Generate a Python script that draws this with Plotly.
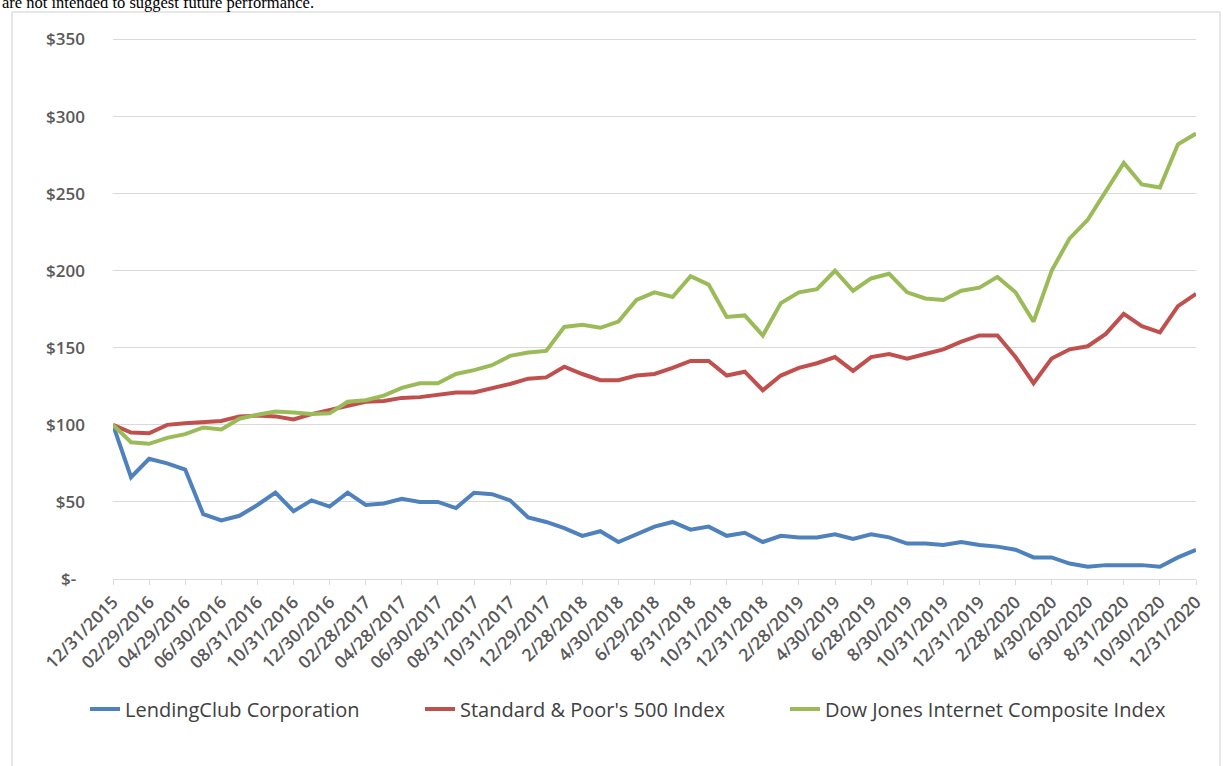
import plotly.graph_objects as go

# ---- data (monthly, 12/31/2015 .. 12/31/2020; 61 points) ----
tick_labels = ["12/31/2015", "02/29/2016", "04/29/2016", "06/30/2016", "08/31/2016",
               "10/31/2016", "12/30/2016", "02/28/2017", "04/28/2017", "06/30/2017",
               "08/31/2017", "10/31/2017", "12/29/2017", "2/28/2018", "4/30/2018",
               "6/29/2018", "8/31/2018", "10/31/2018", "12/31/2018", "2/28/2019",
               "4/30/2019", "6/28/2019", "8/30/2019", "10/31/2019", "12/31/2019",
               "2/28/2020", "4/30/2020", "6/30/2020", "8/31/2020", "10/30/2020",
               "12/31/2020"]

lendingclub = [100, 66, 78, 75, 71, 42, 38, 41, 48, 56, 44, 51, 47, 56, 48, 49, 52, 50, 50, 46,
               56, 55, 51, 40, 37, 33, 28, 31, 24, 29, 34, 37, 32, 34, 28, 30, 24, 28, 27, 27,
               29, 26, 29, 27, 23, 23, 22, 24, 22, 21, 19, 14, 14, 10, 8, 9, 9, 9, 8, 14, 19]

sp500 = [100, 95, 94.5, 100, 101, 102, 102.5, 105.5, 106, 105.5, 103.5, 107, 109.5,
         112.5, 115, 115.5, 117.5, 118, 119.6, 121, 121, 123.7, 126.5, 130, 130.8, 137.7,
         133, 129, 129, 132, 133, 137, 141.5, 141.5, 132, 134.5, 122.5, 132, 137,
         140, 144, 135, 144, 146, 143, 146, 149, 154, 158, 158,
         144, 127, 143, 149, 151, 159, 172, 164, 160, 177, 185]

dj_internet = [100, 88.7, 87.7, 91.6, 94, 98.3, 97, 104, 106.6, 108.6, 108, 107, 107.5,
               115, 116, 119, 124, 127, 127, 133, 135.5, 138.7, 144.8, 147, 148,
               163.5, 165, 163, 167, 181, 186, 183, 196.5, 191, 170, 171, 158, 179, 186,
               188, 200, 187, 195, 198, 186, 182, 181, 187, 189, 196,
               186, 167, 200, 221, 233, 251, 270, 256, 254, 282, 289]

series_names = ["LendingClub Corporation", "Standard & Poor's 500 Index",
                "Dow Jones Internet Composite Index"]
y_tick_vals = [0, 50, 100, 150, 200, 250, 300, 350]
y_tick_text = ["$-\u00a0\u00a0", "$50", "$100", "$150", "$200", "$250", "$300", "$350"]

months = list(range(len(lendingclub)))
tick_pos = months[::2]

colors = ["#4F81BD", "#C0504D", "#9BBB59"]
FONT = "Open Sans, Liberation Sans, sans-serif"

W, H = 1223, 766
L, R, T, B = 113, 27, 38, 187
pw, ph = W - L - R, H - T - B

def px_x(p):
    return (p - L) / pw

def px_y(p):
    return (H - B - p) / ph

legend_ids = ["legend", "legend2", "legend3"]
legend_left_px = [85, 420, 785]

fig = go.Figure()
for name, vals, col, lg in zip(series_names, [lendingclub, sp500, dj_internet], colors, legend_ids):
    fig.add_trace(go.Scatter(x=months, y=vals, mode="lines", name=name, legend=lg,
                             line=dict(color=col, width=4)))

legend_common = dict(orientation="h", xanchor="left", y=px_y(709), yanchor="middle",
                     font=dict(size=20, color="#404040"), bgcolor="rgba(0,0,0,0)",
                     borderwidth=0)

fig.update_layout(
    width=W, height=H,
    margin=dict(l=L, r=R, t=T, b=B),
    paper_bgcolor="white", plot_bgcolor="white",
    font=dict(family=FONT, color="#595959", size=16),
    showlegend=True,
    legend=dict(x=px_x(legend_left_px[0]), **legend_common),
    legend2=dict(x=px_x(legend_left_px[1]), **legend_common),
    legend3=dict(x=px_x(legend_left_px[2]), **legend_common),
    xaxis=dict(range=[0, 60], tickmode="array", tickvals=tick_pos, ticktext=tick_labels,
               tickangle=-45, showgrid=False, zeroline=False,
               showline=True, linecolor="#d9d9d9", linewidth=1,
               ticks="outside", ticklen=5, tickcolor="#d9d9d9",
               tickfont=dict(size=17.5, color="#595959", weight=600)),
    yaxis=dict(range=[0, 351], tickmode="array", tickvals=y_tick_vals, ticktext=y_tick_text,
               showgrid=True, gridcolor="#d9d9d9", gridwidth=1, zeroline=False,
               showline=False, ticks="", ticklabelstandoff=27,
               tickfont=dict(size=17, color="#595959", weight=600)),
)

# outer frame of the exhibit
fig.add_shape(type="rect", xref="paper", yref="paper",
              x0=px_x(12), x1=px_x(1220), y0=px_y(780), y1=px_y(12),
              line=dict(color="#d0d0d0", width=1), fillcolor="rgba(0,0,0,0)", layer="below")

# cropped caption at the top
fig.add_annotation(xref="paper", yref="paper", x=px_x(0), y=px_y(2), xanchor="left",
                   yanchor="middle", showarrow=False,
                   text="are not intended to suggest future performance.",
                   font=dict(family="Liberation Serif, Times New Roman, serif", size=16.5,
                             color="black"))

fig.write_html("out.html")
